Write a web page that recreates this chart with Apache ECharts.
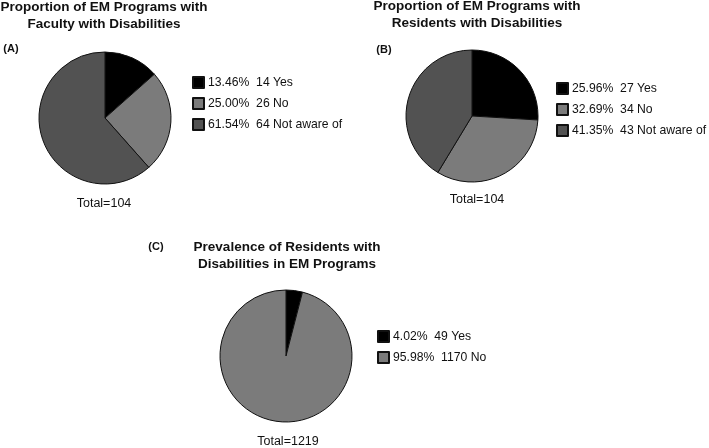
<!DOCTYPE html>
<html>
<head>
<meta charset="utf-8">
<script src="https://cdn.jsdelivr.net/npm/echarts@6/dist/echarts.min.js"></script>
<style>
html,body{margin:0;padding:0;background:#fff;}
#chart{width:709px;height:448px;}
</style>
</head>
<body>
<div id="chart"></div>
<script>
// Data
var categoriesAB = ['Yes', 'No', 'Not aware of'];
var categoriesC = ['Yes', 'No'];
var valuesA = [14, 26, 64];
var valuesB = [27, 34, 43];
var valuesC = [49, 1170];
var percentA = ['13.46%', '25.00%', '61.54%'];
var percentB = ['25.96%', '32.69%', '41.35%'];
var percentC = ['4.02%', '95.98%'];
var titleA = 'Proportion of EM Programs with\nFaculty with Disabilities';
var titleB = 'Proportion of EM Programs with\nResidents with Disabilities';
var titleC = 'Prevalence of Residents with\nDisabilities in EM Programs';
var panelLabels = ['(A)', '(B)', '(C)'];
var totals = ['Total=104', 'Total=104', 'Total=1219'];

var colors3 = ['#000000', '#7b7b7b', '#525252'];
var colors2 = ['#000000', '#7b7b7b'];
var FONT = '"Liberation Sans", Arial, Helvetica, sans-serif';

function makeData(cats, vals, cols, prefix) {
  return cats.map(function (c, i) {
    return { name: prefix + c, value: vals[i], itemStyle: { color: cols[i] } };
  });
}
function makeFormatter(cats, vals, pcts, prefix) {
  return function (name) {
    var i = cats.indexOf(name.slice(prefix.length));
    return pcts[i] + '  ' + vals[i] + ' ' + cats[i];
  };
}

var pieBase = {
  type: 'pie',
  radius: 66,
  startAngle: 90,
  clockwise: true,
  label: { show: false },
  labelLine: { show: false },
  silent: true,
  emphasis: { disabled: true },
  itemStyle: { borderColor: '#111', borderWidth: 1 }
};

function legendFor(cats, vals, pcts, prefix, left, top) {
  return {
    orient: 'vertical',
    left: left,
    top: top,
    icon: 'rect',
    itemWidth: 11,
    itemHeight: 11,
    itemGap: 8,
    selectedMode: false,
    data: cats.map(function (c) { return prefix + c; }),
    formatter: makeFormatter(cats, vals, pcts, prefix),
    textStyle: { fontFamily: FONT, fontSize: 12.2, color: '#111', padding: [0, 0, 0, -1] }
  };
}

function txt(x, y, s, opts) {
  return {
    type: 'text',
    x: x, y: y,
    silent: true,
    style: Object.assign({
      text: s,
      fontFamily: FONT,
      fontSize: 12.5,
      fill: '#111',
      textAlign: 'center',
      textVerticalAlign: 'middle'
    }, opts || {})
  };
}

var chart = echarts.init(document.getElementById('chart'), null, { renderer: 'canvas' });
chart.setOption({
  animation: false,
  backgroundColor: '#fff',
  legend: [
    legendFor(categoriesAB, valuesA, percentA, 'A ', 187, 71),
    legendFor(categoriesAB, valuesB, percentB, 'B ', 551, 77),
    legendFor(categoriesC, valuesC, percentC, 'C ', 372, 325)
  ],
  series: [
    Object.assign({}, pieBase, { center: [105, 118], data: makeData(categoriesAB, valuesA, colors3, 'A ') }),
    Object.assign({}, pieBase, { center: [472, 116], data: makeData(categoriesAB, valuesB, colors3, 'B ') }),
    Object.assign({}, pieBase, { center: [286, 356], data: makeData(categoriesC, valuesC, colors2, 'C ') })
  ],
  graphic: [
    txt(104, 16, titleA, { fontWeight: 'bold', fontSize: 13.5, lineHeight: 17 }),
    txt(477, 15, titleB, { fontWeight: 'bold', fontSize: 13.5, lineHeight: 17 }),
    txt(287, 256, titleC, { fontWeight: 'bold', fontSize: 13.5, lineHeight: 17 }),
    txt(11, 49, panelLabels[0], { fontWeight: 'bold', fontSize: 11 }),
    txt(384, 50, panelLabels[1], { fontWeight: 'bold', fontSize: 11 }),
    txt(156, 247, panelLabels[2], { fontWeight: 'bold', fontSize: 11 }),
    txt(104, 204, totals[0]),
    txt(477, 200, totals[1]),
    txt(288, 442, totals[2])
  ]
});
</script>
</body>
</html>
